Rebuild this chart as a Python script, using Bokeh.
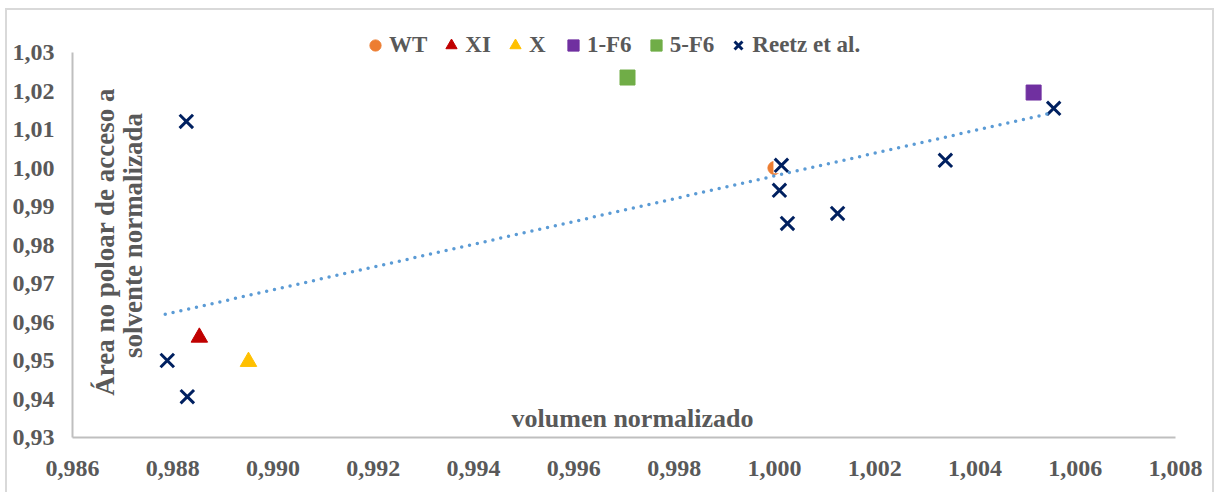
import math

from bokeh.embed import file_html
from bokeh.models import (ColumnDataSource, CustomJSTickFormatter, FixedTicker,
                          InlineStyleSheet, Label, Legend, LegendItem)
from bokeh.plotting import figure
from bokeh.resources import INLINE

# --- data -------------------------------------------------------------
wt_x = [1.0000]
wt_y = [1.0000]

xi_x = [0.98853]
xi_y = [0.9560]

x_x = [0.98951]
x_y = [0.9497]

f1_x = [1.00517]
f1_y = [1.0196]

f5_x = [0.99707]
f5_y = [1.0235]

reetz_x = [0.98827, 0.98789, 0.98829, 1.00014, 1.00010, 1.00026, 1.00126, 1.00341, 1.00557]
reetz_y = [1.0121, 0.9500, 0.9406, 1.0007, 0.9942, 0.9856, 0.9882, 1.0020, 1.0155]

# linear trend line (start / end)
trend_x = [0.98785, 1.00557]
trend_y = [0.9620, 1.0144]

x_ticks = [0.986, 0.988, 0.990, 0.992, 0.994, 0.996, 0.998, 1.000, 1.002, 1.004, 1.006, 1.008]
y_ticks = [0.93, 0.94, 0.95, 0.96, 0.97, 0.98, 0.99, 1.00, 1.01, 1.02, 1.03]

x_title = "volumen normalizado"
y_title = ["Área no poloar  de acceso a", "solvente normalizada"]

# --- style ------------------------------------------------------------
FONT = "Liberation Serif"
TEXT = "#595959"
AXIS = "#BFBFBF"

# the frame reaches above the top tick so the legend has room there;
# the y axis line itself stops at the last tick
PX_PER_Y = 3850.0      # pixels per unit on the y axis
TOP_PAD = 42           # pixels between the top tick and the frame edge
y_end = y_ticks[-1] + TOP_PAD / PX_PER_Y

p = figure(width=1215, height=492,
           x_range=(x_ticks[0], x_ticks[-1]), y_range=(y_ticks[0], y_end),
           output_backend="svg", toolbar_location=None,
           min_border_left=72, min_border_right=40,
           min_border_top=52 - TOP_PAD, min_border_bottom=55)
p.xgrid.visible = False
p.ygrid.visible = False
p.outline_line_color = None
p.background_fill_color = "white"
p.border_fill_color = "white"

for ax in (p.xaxis[0], p.yaxis[0]):
    ax.axis_line_color = AXIS
    ax.axis_line_width = 2
    ax.major_tick_line_color = None
    ax.minor_tick_line_color = None
    ax.major_label_text_font = FONT
    ax.major_label_text_font_style = "bold"
    ax.major_label_text_font_size = "24px"
    ax.major_label_text_color = TEXT

p.yaxis.bounds = (y_ticks[0], y_ticks[-1])
p.xaxis.ticker = FixedTicker(ticks=x_ticks)
p.yaxis.ticker = FixedTicker(ticks=y_ticks)
p.xaxis.formatter = CustomJSTickFormatter(code="return tick.toFixed(3).replace('.', ',');")
p.yaxis.formatter = CustomJSTickFormatter(code="return tick.toFixed(2).replace('.', ',');")
p.xaxis.major_label_standoff = 17
p.yaxis.major_label_standoff = 12

# --- series -----------------------------------------------------------
r_wt = p.scatter(wt_x, wt_y, marker="circle", size=13,
                 fill_color="#ED7D31", line_color="#ED7D31")
r_xi = p.scatter(xi_x, xi_y, marker="triangle", size=16.5,
                 fill_color="#C00000", line_color="#C00000")
r_x = p.scatter(x_x, x_y, marker="triangle", size=16.5,
                fill_color="#FFC000", line_color="#FFC000")
r_f1 = p.scatter(f1_x, f1_y, marker="square", size=15,
                 fill_color="#7030A0", line_color="#7030A0")
r_f5 = p.scatter(f5_x, f5_y, marker="square", size=15,
                 fill_color="#70AD47", line_color="#70AD47")

reetz = ColumnDataSource(dict(x=reetz_x, y=reetz_y))
# the cross markers sit on a small white tile
p.scatter("x", "y", source=reetz, marker="square", size=16,
          fill_color="white", line_color=None)
r_reetz = p.scatter("x", "y", source=reetz, marker="x", size=19,
                    line_color="#002060", line_width=3)

p.line(trend_x, trend_y, line_color="#5B9BD5", line_width=3.5,
       line_dash="0 8", line_cap="round")

# --- legend -----------------------------------------------------------
legend = Legend(
    items=[LegendItem(label="WT", renderers=[r_wt]),
           LegendItem(label="XI", renderers=[r_xi]),
           LegendItem(label="X", renderers=[r_x]),
           LegendItem(label="1-F6", renderers=[r_f1]),
           LegendItem(label="5-F6", renderers=[r_f5]),
           LegendItem(label="Reetz et al.", renderers=[r_reetz])],
    orientation="horizontal",
    location=(289, 375),
    glyph_width=28, glyph_height=34,
    label_standoff=0, spacing=10, padding=0, margin=0,
    border_line_color=None, background_fill_alpha=0,
    label_text_font=FONT, label_text_font_style="bold",
    label_text_font_size="23px", label_text_color=TEXT,
)
p.add_layout(legend, "center")

# --- axis titles (inside the plotting area) ---------------------------
p.add_layout(Label(x=0.99717, y=0.9349, text=x_title,
                   text_font=FONT, text_font_style="bold", text_font_size="26px",
                   text_color=TEXT, text_align="center", text_baseline="middle"))
p.add_layout(Label(x=0.98664, y=0.98169, text=y_title[0], angle=math.pi / 2,
                   text_font=FONT, text_font_style="bold", text_font_size="27px",
                   text_color=TEXT, text_align="center", text_baseline="middle"))
p.add_layout(Label(x=0.98720, y=0.98247, text=y_title[1], angle=math.pi / 2,
                   text_font=FONT, text_font_style="bold", text_font_size="27px",
                   text_color=TEXT, text_align="center", text_baseline="middle"))

# light frame around the whole chart
p.stylesheets.append(InlineStyleSheet(css="""
:host::after {
  content: ''; position: absolute; left: 5px; top: 8px;
  width: 1209px; height: 484px; box-sizing: border-box;
  border: 2px solid #D9D9D9; border-bottom: none; pointer-events: none;
}
"""))

open("out.html", "w").write(file_html(p, INLINE))
